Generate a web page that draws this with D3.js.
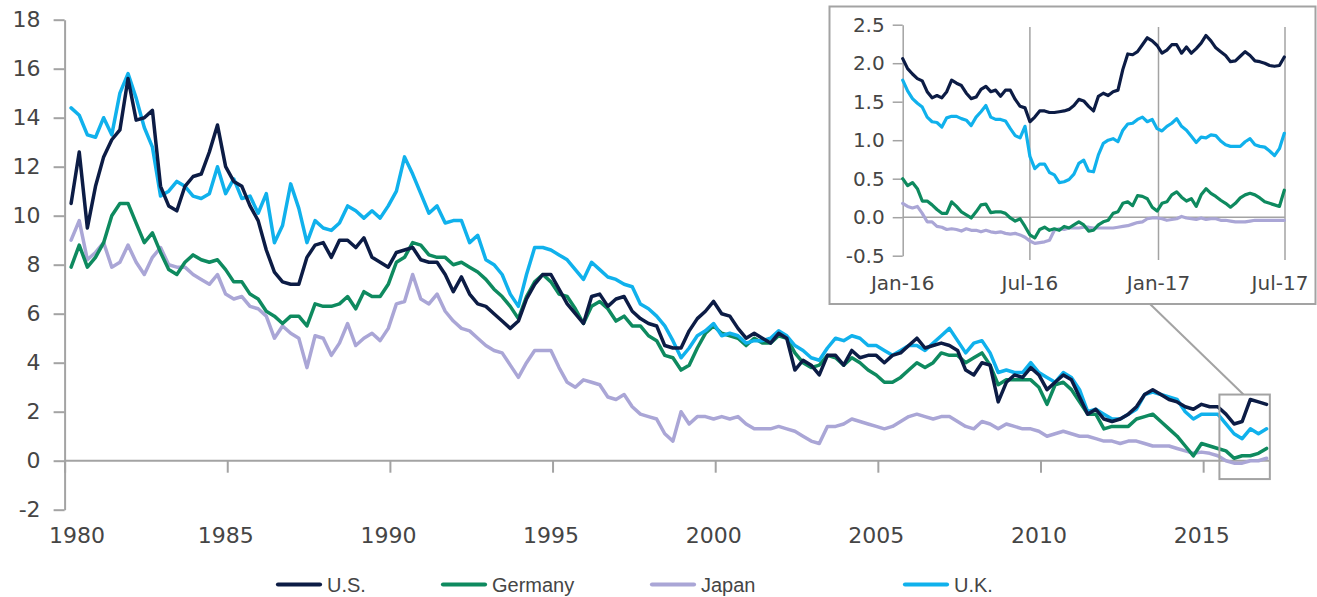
<!DOCTYPE html>
<html><head><meta charset="utf-8">
<script src="https://cdn.jsdelivr.net/npm/d3@7"></script>
<style>
body{margin:0;background:#fff;}
svg{display:block;}
</style>
</head><body>
<svg id="chart" width="1317" height="597"></svg>
<script>
// ---------------- DATA ----------------
const seriesNames = ["U.S.", "Germany", "Japan", "U.K."];
const seriesColors = ["#0c1c45", "#0e8a5f", "#aaa6d6", "#10b1ec"];

// Main chart: quarterly samples starting 1980.2, step 0.25 yr
const mainStart = 1980.2, mainStep = 0.25;
const usMain = [10.5,12.6,9.5,11.2,12.4,13.1,13.5,15.6,13.9,14.0,14.3,11.2,10.4,10.2,11.2,11.6,11.7,12.6,13.7,12.0,11.4,11.2,10.4,9.8,8.6,7.7,7.3,7.2,7.2,8.3,8.8,8.9,8.3,9.0,9.0,8.7,9.1,
 8.3,8.1,7.9,8.5,8.6,8.7,8.2,8.1,8.1,7.6,6.9,7.5,6.8,6.4,6.3,6.0,5.7,5.4,5.7,6.6,7.2,7.6,7.6,7.0,6.4,6.0,5.6,6.7,6.8,6.3,6.6,6.7,6.1,5.8,5.6,5.5,4.7,
 4.6,4.6,5.3,5.8,6.1,6.5,6.0,5.9,5.4,5.0,5.2,5.0,4.8,5.2,5.0,3.7,4.1,3.9,3.5,4.3,4.3,3.9,4.5,4.2,4.3,4.3,4.0,4.3,4.4,4.7,5.0,4.6,4.7,4.8,4.7,4.5,3.7,
 3.5,4.0,3.9,2.4,3.2,3.5,3.4,3.8,3.5,2.9,3.2,3.5,3.3,2.6,1.9,2.1,1.7,1.6,1.7,1.9,2.2,2.7,2.9,2.7,2.5,2.4,2.2,2.1,2.3,2.2,2.2,1.9,1.5,1.6,2.5,2.4,2.3];
const deMain = [7.9,8.8,7.9,8.3,8.9,10.0,10.5,10.5,9.7,8.9,9.3,8.5,7.8,7.6,8.1,8.4,8.2,8.1,8.2,7.8,7.3,7.3,6.8,6.6,6.1,5.9,5.6,5.9,5.9,5.5,6.4,6.3,6.3,6.4,6.7,6.2,6.9,
 6.7,6.7,7.2,8.1,8.3,8.9,8.8,8.4,8.3,8.3,8.0,8.1,7.9,7.7,7.4,7.0,6.7,6.3,5.8,6.7,7.3,7.6,7.3,6.8,6.7,6.2,5.6,6.3,6.5,6.2,5.7,5.9,5.5,5.5,5.1,4.9,4.3,
 4.2,3.7,3.9,4.6,5.2,5.5,5.2,5.1,5.0,4.7,5.0,4.8,4.8,5.1,5.0,4.4,4.0,3.8,3.9,4.3,4.2,3.9,4.2,4.0,3.7,3.5,3.2,3.2,3.4,3.7,4.0,3.8,4.0,4.4,4.3,4.3,4.0,
 4.2,4.4,3.9,3.1,3.3,3.3,3.3,3.3,3.0,2.3,3.1,3.2,2.9,2.4,1.9,1.9,1.3,1.4,1.4,1.4,1.7,1.8,1.9,1.6,1.3,1.0,0.6,0.2,0.7,0.6,0.5,0.4,0.1,0.2,0.2,0.3,0.5];
const jpMain = [9.0,9.8,8.2,8.5,8.9,7.9,8.1,8.8,8.1,7.6,8.3,8.7,8.0,7.9,7.9,7.6,7.4,7.2,7.6,6.8,6.6,6.7,6.3,6.2,5.9,5.0,5.5,5.2,5.0,3.8,5.1,5.0,4.3,4.8,5.6,4.7,5.0,
 5.2,4.9,5.4,6.4,6.5,7.6,6.6,6.4,6.8,6.1,5.7,5.4,5.3,5.0,4.7,4.5,4.4,3.9,3.4,4.0,4.5,4.5,4.5,3.8,3.2,3.0,3.3,3.2,3.1,2.6,2.5,2.7,2.2,1.9,1.8,1.7,1.1,
 0.8,2.0,1.5,1.8,1.8,1.7,1.8,1.7,1.8,1.5,1.3,1.3,1.3,1.4,1.3,1.2,1.0,0.8,0.7,1.4,1.4,1.5,1.7,1.6,1.5,1.4,1.3,1.4,1.6,1.8,1.9,1.8,1.7,1.8,1.8,1.6,1.4,
 1.3,1.6,1.5,1.3,1.5,1.4,1.3,1.3,1.2,1.0,1.1,1.2,1.1,1.0,1.0,0.9,0.8,0.8,0.7,0.8,0.8,0.7,0.6,0.6,0.6,0.5,0.4,0.3,0.35,0.3,0.2,0.0,-0.1,-0.1,0.0,0.0,0.1];
const ukMain = [14.4,14.1,13.3,13.2,14.0,13.3,15.0,15.8,14.8,13.6,12.8,10.8,11.0,11.4,11.2,10.8,10.7,10.9,12.0,10.9,11.5,10.7,10.8,10.1,10.9,8.9,9.6,11.3,10.3,8.9,9.8,9.5,9.4,9.7,10.4,10.2,9.9,
 10.2,9.9,10.4,11.0,12.4,11.7,10.9,10.1,10.4,9.7,9.8,9.8,8.9,9.2,8.2,8.0,7.6,6.8,6.3,7.6,8.7,8.7,8.6,8.4,8.2,7.8,7.4,8.1,7.8,7.5,7.4,7.2,7.1,6.4,6.2,5.9,5.5,
 4.9,4.2,4.6,5.1,5.3,5.6,5.1,5.2,5.1,4.8,4.9,4.9,5.0,5.3,5.1,4.7,4.5,4.2,4.1,4.6,5.0,4.9,5.1,5.0,4.7,4.7,4.5,4.3,4.5,4.7,4.7,4.5,4.8,5.1,5.4,4.9,4.4,
 4.8,4.9,4.4,3.6,3.7,3.6,3.6,4.0,3.6,3.4,3.2,3.6,3.4,2.9,2.0,2.1,1.9,1.7,1.7,1.9,2.1,2.7,2.8,2.7,2.6,2.5,2.0,1.7,1.9,1.9,1.9,1.5,1.1,0.9,1.3,1.1,1.3];

const mainYTicks = [-2,0,2,4,6,8,10,12,14,16,18];
const mainXTicks = [1980,1985,1990,1995,2000,2005,2010,2015];
const highlightX = [2015.5, 2017.05];
const highlightY = [-0.75, 2.7];

// Inset: weekly samples from 1 Jan 2016
const insetStart = new Date(2016, 0, 1), insetStepDays = 7;
const usInset = [2.06,1.93,1.86,1.80,1.77,1.63,1.55,1.58,1.55,1.63,1.78,1.74,1.71,1.61,1.54,1.56,1.66,1.70,1.63,1.65,1.57,1.65,1.65,1.53,1.44,1.42,1.24,1.30,1.38,1.38,1.36,1.36,1.37,1.38,1.40,1.45,1.53,1.51,1.44,1.38,1.57,1.61,1.58,1.63,1.65,1.92,2.12,2.11,2.15,2.24,2.33,2.29,2.23,2.13,2.17,2.24,2.24,2.13,2.21,2.13,2.19,2.26,2.36,2.29,2.20,2.15,2.10,2.02,2.03,2.09,2.15,2.10,2.03,2.02,2.00,1.97,1.96,1.97,2.08];
const ukInset = [1.78,1.64,1.54,1.48,1.43,1.30,1.24,1.23,1.17,1.29,1.31,1.31,1.28,1.26,1.19,1.30,1.37,1.45,1.30,1.27,1.27,1.25,1.15,1.06,1.03,1.18,0.79,0.63,0.69,0.69,0.58,0.55,0.45,0.46,0.49,0.56,0.70,0.74,0.60,0.59,0.81,0.96,1.00,1.02,0.98,1.13,1.21,1.22,1.27,1.30,1.24,1.27,1.15,1.12,1.18,1.22,1.28,1.18,1.13,1.05,0.97,1.04,1.03,1.07,1.06,0.99,0.94,0.92,0.92,0.92,0.98,1.02,0.94,0.92,0.91,0.86,0.80,0.89,1.09];
const deInset = [0.50,0.41,0.45,0.37,0.21,0.21,0.16,0.10,0.05,0.05,0.20,0.14,0.07,0.03,-0.01,0.07,0.16,0.17,0.06,0.07,0.07,0.05,-0.01,-0.05,-0.02,-0.12,-0.23,-0.27,-0.16,-0.13,-0.17,-0.15,-0.17,-0.12,-0.14,-0.10,-0.06,-0.10,-0.18,-0.17,-0.10,-0.06,-0.04,0.05,0.07,0.18,0.20,0.15,0.28,0.27,0.24,0.13,0.08,0.18,0.20,0.29,0.33,0.26,0.21,0.24,0.14,0.29,0.37,0.31,0.27,0.22,0.18,0.13,0.18,0.25,0.29,0.31,0.29,0.25,0.20,0.18,0.16,0.14,0.35];
const jpInset = [0.18,0.14,0.12,0.14,0.05,-0.06,-0.06,-0.12,-0.13,-0.16,-0.15,-0.16,-0.18,-0.15,-0.17,-0.17,-0.19,-0.17,-0.19,-0.20,-0.19,-0.21,-0.22,-0.21,-0.23,-0.26,-0.31,-0.34,-0.33,-0.32,-0.30,-0.17,-0.15,-0.16,-0.14,-0.14,-0.14,-0.13,-0.13,-0.14,-0.14,-0.14,-0.14,-0.14,-0.13,-0.12,-0.11,-0.09,-0.07,-0.06,-0.02,-0.01,-0.01,-0.02,-0.04,-0.03,-0.02,0.01,-0.01,-0.02,-0.03,-0.01,-0.03,-0.02,-0.02,-0.04,-0.04,-0.05,-0.06,-0.06,-0.06,-0.05,-0.04,-0.04,-0.04,-0.04,-0.04,-0.04,-0.04];

const insetYTicks = [-0.5,0,0.5,1,1.5,2,2.5];
const insetXTicks = [new Date(2016,0,1), new Date(2016,6,1), new Date(2017,0,1), new Date(2017,6,1)];

// ---------------- DRAW ----------------
const svg = d3.select("#chart");
const axisColor = "#a3a3a3", textColor = "#454545";
const numFont = "'DejaVu Sans', sans-serif";

const x = d3.scaleLinear().domain([1980, 2018]).range([64.6, 64.6 + 38 * 32.53]);
const y = d3.scaleLinear().domain([-2, 18]).range([509.7, 19.7]);

// Y axis
const yAxisG = svg.append("g").attr("transform", `translate(${x(1980)},0)`)
  .call(d3.axisLeft(y).tickValues(mainYTicks).tickSize(11).tickSizeOuter(0).tickPadding(13).tickFormat(d => String(d)));
yAxisG.select(".domain").attr("stroke", axisColor).attr("stroke-width", 2);
yAxisG.selectAll(".tick line").attr("stroke", axisColor).attr("stroke-width", 2);
yAxisG.selectAll(".tick text").attr("fill", textColor).style("font-family", numFont).style("font-size", "22px");

// X axis at zero
const xAxisG = svg.append("g").attr("transform", `translate(0,${y(0)})`)
  .call(d3.axisBottom(x).tickValues(mainXTicks).tickSize(12).tickSizeOuter(0).tickPadding(55).tickFormat(d3.format("d")));
xAxisG.select(".domain").remove();
xAxisG.append("line").attr("x1", x(1980)).attr("x2", x(highlightX[1])).attr("y1", 0).attr("y2", 0)
  .attr("stroke", axisColor).attr("stroke-width", 2);
xAxisG.selectAll(".tick line").attr("stroke", axisColor).attr("stroke-width", 2);
xAxisG.selectAll(".tick text").attr("fill", textColor).style("font-family", numFont).style("font-size", "22px")
  .attr("dx", d => d === 1980 ? 12 : -2);

// Lines (draw order: Japan, Germany, U.K., U.S.)
const mainData = [usMain, deMain, jpMain, ukMain];
const mainLine = d3.line().x((d, i) => x(mainStart + i * mainStep)).y(d => y(d));
[2, 1, 3, 0].forEach(s => {
  svg.append("path").datum(mainData[s]).attr("d", mainLine)
    .attr("fill", "none").attr("stroke", seriesColors[s]).attr("stroke-width", 3.5)
    .attr("stroke-linejoin", "round").attr("stroke-linecap", "round");
});

// Highlight rectangle on main chart
svg.append("rect")
  .attr("x", x(highlightX[0])).attr("y", y(highlightY[1]))
  .attr("width", x(highlightX[1]) - x(highlightX[0])).attr("height", y(highlightY[0]) - y(highlightY[1]))
  .attr("fill", "none").attr("stroke", axisColor).attr("stroke-width", 2);

// ---------------- INSET ----------------
const frame = {x: 829.5, y: 6.5, w: 486, h: 297.5};
svg.append("rect").attr("x", frame.x).attr("y", frame.y).attr("width", frame.w).attr("height", frame.h)
  .attr("fill", "#fff").attr("stroke", axisColor).attr("stroke-width", 2);

// connector
svg.append("line").attr("x1", 1150).attr("y1", frame.y + frame.h)
  .attr("x2", x(2016.24)).attr("y2", y(highlightY[1]))
  .attr("stroke", axisColor).attr("stroke-width", 2);

const xi = d3.scaleTime().domain([insetXTicks[0], insetXTicks[3]]).range([902.7, 1285]);
const yi = d3.scaleLinear().domain([-0.5, 2.5]).range([255.7, 24.7]);

// vertical gridlines
svg.append("g").selectAll("line").data(insetXTicks.slice(1)).join("line")
  .attr("x1", d => xi(d)).attr("x2", d => xi(d)).attr("y1", 27).attr("y2", 260)
  .attr("stroke", axisColor).attr("stroke-width", 1.5);
// zero line
svg.append("line").attr("x1", xi(insetXTicks[0])).attr("x2", xi(insetXTicks[3]))
  .attr("y1", yi(0)).attr("y2", yi(0)).attr("stroke", axisColor).attr("stroke-width", 1.5);

const yiAxis = svg.append("g").attr("transform", `translate(${xi(insetXTicks[0])},0)`)
  .call(d3.axisLeft(yi).tickValues(insetYTicks).tickSize(10).tickSizeOuter(0).tickPadding(8).tickFormat(d => d.toFixed(1)));
yiAxis.select(".domain").attr("stroke", axisColor).attr("stroke-width", 1.5);
yiAxis.selectAll(".tick line").attr("stroke", axisColor).attr("stroke-width", 1.5);
yiAxis.selectAll(".tick text").attr("fill", textColor).style("font-family", numFont).style("font-size", "20px");

const fmtMonth = d3.timeFormat("%b-%y");
svg.append("g").selectAll("text").data(insetXTicks).join("text")
  .attr("x", d => xi(d)).attr("y", 290).attr("text-anchor", "middle")
  .attr("dx", (d, i) => i === insetXTicks.length - 1 ? -5 : 0)
  .attr("fill", textColor).style("font-family", numFont).style("font-size", "20px")
  .text(d => fmtMonth(d));

const insetData = [usInset, deInset, jpInset, ukInset];
const insetLine = d3.line()
  .x((d, i) => xi(d3.timeDay.offset(insetStart, i * insetStepDays)))
  .y(d => yi(d));
[2, 1, 3, 0].forEach(s => {
  svg.append("path").datum(insetData[s]).attr("d", insetLine)
    .attr("fill", "none").attr("stroke", seriesColors[s]).attr("stroke-width", 3.2)
    .attr("stroke-linejoin", "round").attr("stroke-linecap", "round");
});

// ---------------- LEGEND ----------------
const legendX = [278, 443, 652, 905];
const legendY = 584.5;
const lg = svg.append("g");
seriesNames.forEach((name, s) => {
  lg.append("line").attr("x1", legendX[s]).attr("x2", legendX[s] + 42)
    .attr("y1", legendY).attr("y2", legendY)
    .attr("stroke", seriesColors[s]).attr("stroke-width", 4.2).attr("stroke-linecap", "round");
  lg.append("text").attr("x", legendX[s] + 49).attr("y", legendY).attr("dy", "0.35em")
    .attr("fill", textColor).style("font-family", "'Liberation Sans', Arial, sans-serif").style("font-size", "20px")
    .text(name);
});
</script>
</body></html>
